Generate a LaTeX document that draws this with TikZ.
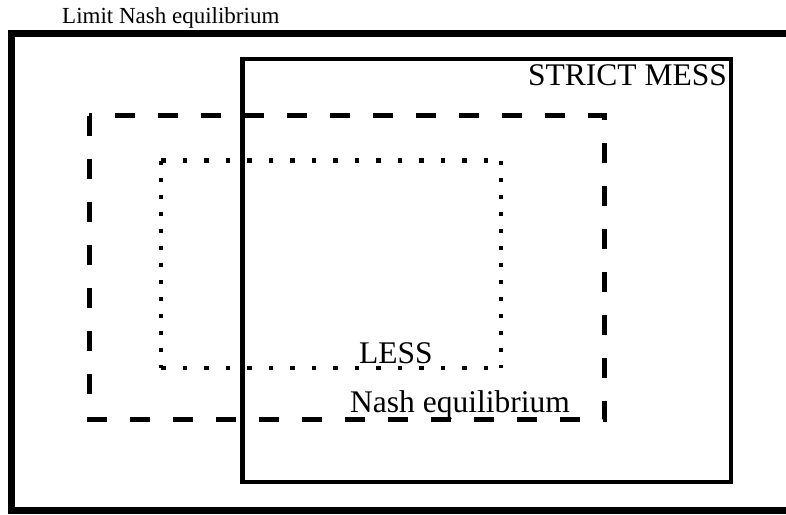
\documentclass[tikz,border=0pt]{standalone}
\usepackage{fontspec}
\setmainfont{Liberation Serif}
\begin{document}
\begin{tikzpicture}[x=1pt,y=-1pt,
  lbl/.style={inner sep=0pt,font=\fontsize{23}{26}\selectfont},
  biglbl/.style={inner sep=0pt,font=\fontsize{31.5}{34}\selectfont},
  outerbox/.style={line width=7pt},
  solidbox/.style={line width=4.5pt},
  dashbox/.style={line width=5pt,dash pattern=on 20pt off 23pt},
  dotsh/.style={line width=4.5pt,dash pattern=on 4.5pt off 17pt},
  dotsv/.style={line width=4.5pt,dash pattern=on 4.5pt off 12.5pt}]
\useasboundingbox (0,0) rectangle (786,514);
\begin{scope}
\clip (0,0) rectangle (786,514);
\draw[outerbox] (11,33.5) rectangle (900,510.5);
\end{scope}
\draw[solidbox] (242.5,59) rectangle (731,482);
\draw[dashbox] (89,115.5) rectangle (604,419);
\draw[dotsh] (161,160.7) -- (501,160.7);
\draw[dotsh] (161,368) -- (501,368);
\draw[dotsv] (161,160.7) -- (161,368);
\draw[dotsv] (501,160.7) -- (501,368);
\node[lbl,anchor=base west] (limit) at (62,23.3) {Limit Nash equilibrium};
\node[biglbl,anchor=base east] (strict) at (727,85.5) {STRICT MESS};
\node[biglbl,anchor=base west] (less) at (359,363) {LESS};
\node[biglbl,anchor=base west] (nash) at (350,412.5) {Nash equilibrium};
\end{tikzpicture}
\end{document}
